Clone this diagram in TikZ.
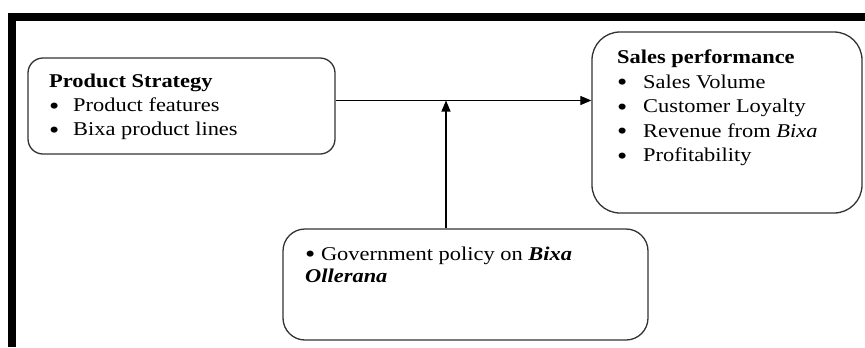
\documentclass[tikz,border=0pt]{standalone}
\usepackage{fontspec}
\setmainfont{Liberation Serif}[FakeStretch=1.15]
\usetikzlibrary{arrows.meta}
\newcommand{\bul}{\raisebox{-2.5bp}{\scalebox{1.3}{•}}}
\tikzset{
  box/.style={draw=black!80, line width=1.3bp, inner sep=0pt, rectangle},
  txt/.style={anchor=base west, inner sep=0pt, font=\fontsize{19.5bp}{22bp}\selectfont, text=black},
  conn/.style={draw=black, line width=1.2bp, -{Triangle[length=11bp,width=9bp]}},
  frame/.style={fill=black, draw=none}
}
\begin{document}
\begin{tikzpicture}[x=1bp,y=-1bp]
\useasboundingbox (0,0) rectangle (865,347);
% frame
\fill[frame] (8,13) rectangle (865,21);
\fill[frame] (8,13) rectangle (16,347);
% boxes
\node[box, rounded corners=15bp, minimum width=307bp, minimum height=96bp] (lbox) at (181.5,106) {};
\node[box, rounded corners=28bp, minimum width=270bp, minimum height=181bp] (rbox) at (727,122.5) {};
\node[box, rounded corners=22bp, minimum width=365bp, minimum height=111bp] (gbox) at (465.5,284.5) {};
\coordinate (hline) at (446,100.5);
% text
\node[txt] (t1) at (49,87.5) {\textbf{Product Strategy}};
\node[txt] (b1) at (49,111.5) {\bul};
\node[txt] (t2) at (73,111.5) {Product features};
\node[txt] (b2) at (49,135.5) {\bul};
\node[txt] (t3) at (73,135.5) {Bixa product lines};
\node[txt] (s0) at (617,63.5) {\textbf{Sales performance}};
\node[txt] (sb1) at (617,88) {\bul};
\node[txt] (s1) at (643,88) {Sales Volume};
\node[txt] (sb2) at (617,112.5) {\bul};
\node[txt] (s2) at (643,112.5) {Customer Loyalty};
\node[txt] (sb3) at (617,137) {\bul};
\node[txt] (s3) at (643,137) {Revenue from \textit{Bixa}};
\node[txt] (sb4) at (617,161.5) {\bul};
\node[txt] (s4) at (643,161.5) {Profitability};
\node[txt] (g1) at (305,260) {\bul\ Government policy on \textbf{\textit{Bixa}}};
\node[txt] (g2) at (305,282) {\textbf{\textit{Ollerana}}};
% connectors
\draw[conn] (lbox.east |- hline) -- (rbox.west |- hline);
\draw[conn] (gbox.north -| hline) -- (hline);
\end{tikzpicture}
\end{document}
